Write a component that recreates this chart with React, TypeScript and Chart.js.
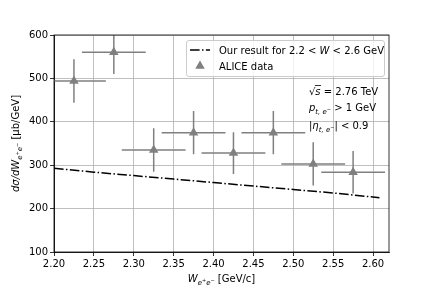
import React, { useEffect, useRef } from "react";
import { Chart, registerables } from "chart.js";

Chart.register(...registerables);

const aliceW = [2.225, 2.275, 2.325, 2.375, 2.425, 2.475, 2.525, 2.575];
const aliceXsec = [494, 560, 335, 375, 328, 375, 303, 284];
const aliceErr = [50, 50, 50, 50, 48, 50, 50, 49];
const aliceWErr = [0.04, 0.04, 0.04, 0.04, 0.04, 0.04, 0.04, 0.04];

const theoryW = [2.2, 2.25, 2.3, 2.35, 2.4, 2.45, 2.5, 2.55, 2.608];
const theoryXsec = [293, 284, 276, 268, 260, 252, 244, 236, 225];

const xTicks = [2.2, 2.25, 2.3, 2.35, 2.4, 2.45, 2.5, 2.55, 2.6];
const yTicks = [100, 200, 300, 400, 500, 600];

const FONT = "'DejaVu Sans', sans-serif";
const GRAY = "#808080";

type Run = { t: string; it?: boolean; s?: number; dy?: number };

function runFont(r: Run) {
  return `${r.it ? "italic " : ""}${r.s ?? 10}px ${FONT}`;
}

function runsWidth(ctx: CanvasRenderingContext2D, runs: Run[]) {
  let w = 0;
  for (const r of runs) {
    ctx.font = runFont(r);
    w += ctx.measureText(r.t).width;
  }
  return w;
}

function drawRuns(
  ctx: CanvasRenderingContext2D,
  runs: Run[],
  x: number,
  y: number,
  align: "left" | "center" = "left"
) {
  ctx.textBaseline = "alphabetic";
  ctx.textAlign = "left";
  let cx = align === "center" ? x - runsWidth(ctx, runs) / 2 : x;
  const pos: number[] = [];
  for (const r of runs) {
    ctx.font = runFont(r);
    pos.push(cx);
    ctx.fillText(r.t, cx, y + (r.dy ?? 0));
    cx += ctx.measureText(r.t).width;
  }
  return pos;
}

const subEE: Run[] = [
  { t: "e", it: true, s: 7, dy: 2.5 },
  { t: "+", s: 5, dy: -0.5 },
  { t: "e", it: true, s: 7, dy: 2.5 },
  { t: "\u2212", s: 5, dy: -0.5 },
];

const decorPlugin = {
  id: "decor",
  beforeDatasetsDraw(chart: any) {
    const ctx: CanvasRenderingContext2D = chart.ctx;
    const xs = chart.scales.x;
    const ys = chart.scales.y;
    const a = chart.chartArea;
    ctx.save();
    ctx.beginPath();
    ctx.rect(a.left, a.top, a.right - a.left, a.bottom - a.top);
    ctx.clip();
    ctx.strokeStyle = GRAY;
    ctx.lineWidth = 1.5;
    for (let i = 0; i < aliceW.length; i++) {
      const px = xs.getPixelForValue(aliceW[i]);
      const py = ys.getPixelForValue(aliceXsec[i]);
      ctx.beginPath();
      ctx.moveTo(xs.getPixelForValue(aliceW[i] - aliceWErr[i]), py);
      ctx.lineTo(xs.getPixelForValue(aliceW[i] + aliceWErr[i]), py);
      ctx.moveTo(px, ys.getPixelForValue(aliceXsec[i] - aliceErr[i]));
      ctx.lineTo(px, ys.getPixelForValue(aliceXsec[i] + aliceErr[i]));
      ctx.stroke();
    }
    ctx.restore();
  },
  afterDraw(chart: any) {
    const ctx: CanvasRenderingContext2D = chart.ctx;
    const a = chart.chartArea;
    ctx.save();
    // frame
    ctx.strokeStyle = "black";
    ctx.lineWidth = 0.8;
    ctx.strokeRect(a.left, a.top, a.right - a.left, a.bottom - a.top);

    // legend
    const lx = 186.5, ly = 40.5, lw = 198, lh = 36;
    ctx.beginPath();
    (ctx as any).roundRect(lx, ly, lw, lh, 2.5);
    ctx.fillStyle = "rgba(255,255,255,0.8)";
    ctx.fill();
    ctx.strokeStyle = "#cccccc";
    ctx.lineWidth = 1;
    ctx.stroke();

    ctx.strokeStyle = "black";
    ctx.lineWidth = 1.5;
    ctx.setLineDash([9.6, 2.4, 1.5, 2.4]);
    ctx.beginPath();
    ctx.moveTo(190, 50);
    ctx.lineTo(210, 50);
    ctx.stroke();
    ctx.setLineDash([]);

    ctx.fillStyle = GRAY;
    const tr = 5.5;
    const tcx = 200, tcy = 66;
    ctx.beginPath();
    ctx.moveTo(tcx, tcy - tr);
    ctx.lineTo(tcx + tr * 0.866, tcy + tr * 0.5);
    ctx.lineTo(tcx - tr * 0.866, tcy + tr * 0.5);
    ctx.closePath();
    ctx.fill();

    ctx.fillStyle = "black";
    drawRuns(ctx, [
      { t: "Our result for 2.2 < " },
      { t: "W", it: true },
      { t: " < 2.6 GeV" },
    ], 219, 54);
    drawRuns(ctx, [{ t: "ALICE data" }], 219, 70);

    // annotations
    const p = drawRuns(ctx, [
      { t: "\u221A" },
      { t: "s", it: true },
      { t: " = 2.76 TeV" },
    ], 309, 95);
    ctx.font = `italic 10px ${FONT}`;
    const sw = ctx.measureText("s").width;
    ctx.strokeStyle = "black";
    ctx.lineWidth = 0.8;
    ctx.beginPath();
    ctx.moveTo(p[1] - 0.5, 85.5);
    ctx.lineTo(p[1] + sw + 0.5, 85.5);
    ctx.stroke();

    drawRuns(ctx, [
      { t: "p", it: true },
      { t: "t, e", it: true, s: 7, dy: 2.5 },
      { t: "\u2212", s: 5, dy: -0.5 },
      { t: " > 1 GeV" },
    ], 309, 111);
    drawRuns(ctx, [
      { t: "|" },
      { t: "\u03B7", it: true },
      { t: "t, e", it: true, s: 7, dy: 2.5 },
      { t: "\u2212", s: 5, dy: -0.5 },
      { t: "| < 0.9" },
    ], 309, 129);

    // axis labels
    drawRuns(ctx, [{ t: "W", it: true }, ...subEE, { t: " [GeV/c]" }], (a.left + a.right) / 2, 282, "center");

    ctx.save();
    ctx.translate(19, (a.top + a.bottom) / 2);
    ctx.rotate(-Math.PI / 2);
    drawRuns(ctx, [{ t: "d\u03C3/dW", it: true }, ...subEE, { t: " [\u03BCb/GeV]" }], 0, 0, "center");
    ctx.restore();

    ctx.restore();
  },
};

export default function App() {
  const ref = useRef<HTMLCanvasElement | null>(null);
  useEffect(() => {
    document.body.style.margin = "0";
    const canvas = ref.current!;
    const chart = new Chart(canvas, {
      type: "scatter",
      data: {
        datasets: [
          {
            type: "line",
            label: "Our result",
            data: theoryW.map((w, i) => ({ x: w, y: theoryXsec[i] })),
            borderColor: "black",
            borderWidth: 1.5,
            borderDash: [9.6, 2.4, 1.5, 2.4],
            pointRadius: 0,
            fill: false,
            tension: 0,
          },
          {
            label: "ALICE data",
            data: aliceW.map((w, i) => ({ x: w, y: aliceXsec[i] })),
            pointStyle: "triangle",
            pointRadius: 5.5,
            backgroundColor: GRAY,
            borderColor: GRAY,
            borderWidth: 0,
          },
        ],
      },
      options: {
        animation: false,
        responsive: false,
        devicePixelRatio: 1,
        layout: { padding: { left: 0, top: 35, right: 43, bottom: 0 } },
        plugins: { legend: { display: false }, tooltip: { enabled: false } },
        scales: {
          x: {
            type: "linear",
            min: 2.2,
            max: 2.62,
            afterBuildTicks: (s: any) => {
              s.ticks = xTicks.map((v) => ({ value: v }));
            },
            afterFit: (s: any) => {
              s.height = 36;
            },
            ticks: {
              color: "black",
              font: { family: FONT, size: 10 },
              padding: 2,
              maxRotation: 0,
              autoSkip: false,
              callback: (v: any) => Number(v).toFixed(2),
            },
            grid: { color: "#b0b0b0", lineWidth: 0.8, tickColor: "black", tickLength: 4 },
            border: { color: "black", width: 0.8 },
          },
          y: {
            type: "linear",
            min: 100,
            max: 600,
            afterBuildTicks: (s: any) => {
              s.ticks = yTicks.map((v) => ({ value: v }));
            },
            afterFit: (s: any) => {
              s.width = 54;
            },
            ticks: {
              color: "black",
              font: { family: FONT, size: 10 },
              padding: 2,
              autoSkip: false,
              callback: (v: any) => String(v),
            },
            grid: { color: "#b0b0b0", lineWidth: 0.8, tickColor: "black", tickLength: 4 },
            border: { color: "black", width: 0.8 },
          },
        },
      },
      plugins: [decorPlugin],
    } as any);
    return () => chart.destroy();
  }, []);
  return <canvas ref={ref} width={432} height={288} style={{ display: "block", width: 432, height: 288 }} />;
}
